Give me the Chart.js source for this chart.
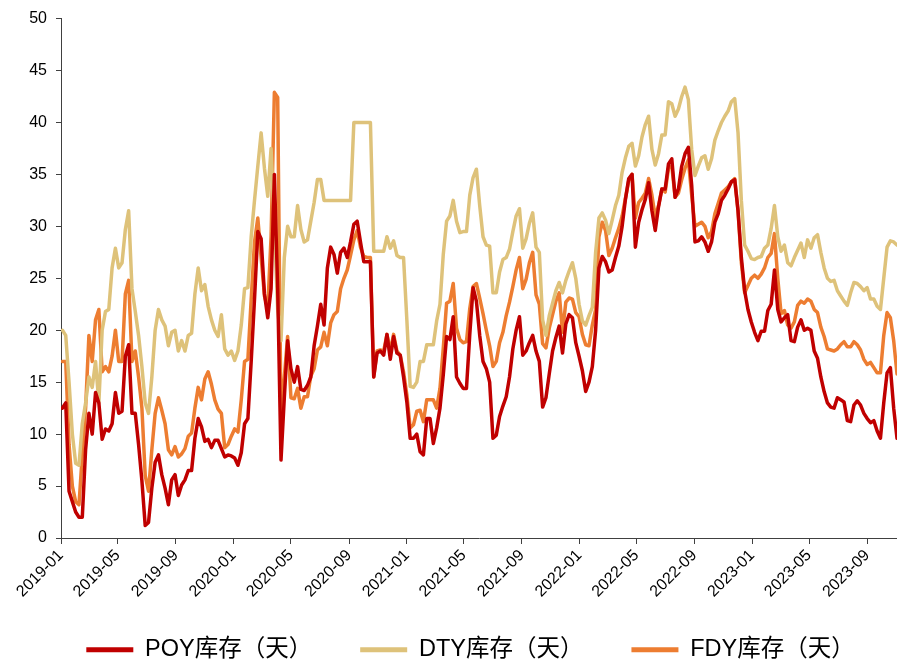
<!DOCTYPE html>
<html>
<head>
<meta charset="utf-8">
<script src="https://cdn.jsdelivr.net/npm/chart.js@4.4.1/dist/chart.umd.min.js"></script>
<style>
  html, body { margin: 0; padding: 0; background: #fff; }
  #wrap { width: 897px; height: 662px; }
</style>
</head>
<body>
<div id="wrap"><canvas id="chart" width="897" height="662"></canvas></div>
<script>
// weekly readings, first week ending 2019-01-04
const firstWeek = "2019-01-04";
const tickLabels = ["2019-01", "2019-05", "2019-09", "2020-01", "2020-05", "2020-09", "2021-01",
    "2021-05", "2021-09", "2022-01", "2022-05", "2022-09", "2023-01", "2023-05", "2023-09"];
const seriesNames = ["POY库存（天）", "DTY库存（天）", "FDY库存（天）"];
const seriesColors = ["#C00000", "#DEC27A", "#ED7D31"];

const poy = [
    12.5, 13, 4.5, 3.5, 2.5, 2, 2, 8.5, 12, 10,
    14, 13, 9.5, 10.5, 10.3, 11, 14, 12, 12.2, 17.5,
    18.6, 12, 12, 9, 5.5, 1.2, 1.5, 4.8, 7.3, 8,
    6.1, 4.8, 3.2, 5.6, 6.1, 4.1, 5.1, 5.6, 6.5, 6.5,
    9.6, 11.5, 10.7, 9.3, 9.5, 8.7, 9.4, 9.4, 8.6, 7.8,
    8, 7.9, 7.7, 7, 8.2, 11, 11.5, 17, 23, 29.5,
    28.8, 23.5, 21.2, 24, 35, 24, 7.5, 13.5, 19, 16.3,
    15, 16.5, 14.3, 14.2, 14.7, 15.5, 18.5, 20.4, 22.5, 20.5,
    26, 28, 27.3, 25.5, 27.5, 27.9, 27, 28.5, 30.2, 30.5,
    28.5, 26.6, 26.6, 26.6, 15.5, 17.8, 18, 17.6, 19.6, 17.2,
    19.4, 17.8, 17.6, 15.5, 13.1, 9.6, 9.6, 10, 8.3, 8,
    11.5, 11.5, 9.1, 10.6, 12.5, 15.7, 19.4, 19.1, 21.3, 15.5,
    14.9, 14.4, 14.4, 19.6, 24.1, 22.8, 19.5, 17, 16.3, 15,
    9.6, 9.9, 11.7, 12.7, 13.6, 15.5, 18.2, 20, 21.3, 17.6,
    18, 18.8, 19.5, 18, 17, 12.6, 13.5, 15.8, 18, 19.3,
    20.4, 17.8, 20.6, 21.5, 21.2, 18.8, 17.5, 16.1, 14.1, 15,
    16.5, 20, 26, 27.1, 26.6, 25.6, 25.8, 27, 28.1, 30,
    32.6, 34.6, 35, 28, 30.4, 31.6, 32.6, 34.2, 31.5, 29.6,
    31.9, 33.6, 33.6, 36, 36.5, 32.8, 33.6, 35.8, 37, 37.6,
    34, 28.5, 28.6, 29, 28.5, 27.6, 28.5, 30.4, 31.2, 32.5,
    33, 33.6, 34.3, 34.5, 31.5, 27, 23.8, 22, 20.8, 19.8,
    19, 19.9, 19.9, 21.9, 22.5, 25.8, 22, 20.8, 21.2, 21.5,
    19, 18.9, 20.3, 21, 20, 20.2, 20, 18, 17.3, 15.5,
    14.1, 13, 12.6, 12.5, 13.5, 13.3, 13.1, 11.3, 11.2, 12.8,
    13.2, 12.8, 12, 11.5, 11.1, 11.3, 10.3, 9.6, 13, 15.9,
    16.4, 12.5, 9.6
];

const dty = [
    20, 19.5, 15, 10, 7.2, 7, 11, 13, 15.5, 14.5,
    17, 13, 20, 21.8, 22, 26, 27.9, 26, 26.5, 29.7,
    31.5, 24, 21.8, 19.5, 16.5, 13, 12, 15.5, 20, 22,
    21, 20.4, 18.5, 19.8, 20, 18, 19, 18, 19.5, 19.7,
    23.5, 26, 23.8, 24.4, 22.3, 21, 20, 19.4, 21.5, 18.2,
    17.6, 18, 17.1, 18, 20.5, 24, 24.1, 29, 32.5, 35.8,
    39, 35.6, 32.9, 37.5, 30, 22, 19, 27, 30, 29,
    29, 32, 29.7, 28.5, 28.7, 30.5, 32.3, 34.5, 34.5, 32.5,
    32.5, 32.5, 32.5, 32.5, 32.5, 32.5, 32.5, 32.5, 40, 40,
    40, 40, 40, 40, 27.6, 27.6, 27.6, 27.6, 29, 27.9,
    28.6, 27.2, 27, 27, 21, 14.6, 14.5, 15, 17, 17,
    18.6, 18.6, 18.6, 20.9, 22.5, 27.3, 30.5, 31, 32.5, 30.5,
    29.4, 29.5, 29.5, 33, 34.7, 35.5, 32, 29, 28.2, 28.1,
    23.6, 23.6, 25.6, 26.8, 27, 27.8, 29.5, 31, 31.7, 27.9,
    28.8, 30.3, 31.3, 28, 27.5, 21, 19.5, 21.4, 22.6, 23.8,
    24.6, 23.6, 24.8, 25.7, 26.5, 25, 22.5, 20.9, 20.5, 21.4,
    22.2, 27.5, 30.8, 31.3, 30.6, 29.3, 30.6, 32, 33, 35.2,
    36.6, 37.7, 38, 35.8, 36.8, 38.6, 39.8, 40.6, 37.4, 35.9,
    37, 38.8, 38.8, 42, 41.8, 40.6, 41.3, 42.5, 43.4, 42.2,
    37.4, 34.9, 35.8, 36.6, 36.8, 35.5, 36.5, 38.3, 39.2, 40,
    40.6, 41.1, 42, 42.3, 39, 32.5, 28.2, 27.6, 26.9, 26.8,
    27, 27.1, 27.9, 28.2, 29.8, 32, 29, 27.6, 28.2, 26.5,
    26.2, 27, 27.7, 28.4, 27, 28.7, 27.9, 28.9, 29.2, 27.5,
    26, 25, 24.7, 24.8, 23.8, 23.3, 22.8, 22.4, 23.6, 24.6,
    24.5, 24.2, 23.8, 24.1, 23, 23, 22.3, 22, 25, 28,
    28.6, 28.5, 28.2
];

const fdy = [
    17, 17, 9, 5, 3.5, 3.2, 8, 12.5, 19.5, 17,
    21, 22, 16, 16.5, 16, 17.5, 20, 17, 17, 23.5,
    24.8, 17, 18, 15.5, 12.5, 6, 4.5, 8.5, 12, 13.5,
    12.3, 11, 8.5, 8, 8.8, 7.8, 8.1, 8.6, 9.8, 10.1,
    12.5, 14.5, 13.3, 15.3, 16, 14.8, 13.3, 12.4, 12, 8.7,
    9, 9.8, 10.5, 10.2, 13.3, 17, 17.2, 23, 28.5, 30.8,
    27, 23.3, 22.1, 29, 42.9, 42.4, 11.5, 15.5, 19.4, 13.5,
    13.4, 14.4, 12.5, 13.6, 13.6, 15.6, 16.3, 18.1, 18.4, 19.8,
    18.5, 20.7, 21.5, 21.8, 24, 25, 25.8, 27.2, 28.7, 29.6,
    28, 27.1, 27, 27, 15.5, 18, 18.1, 18, 19.6, 18,
    19.6, 18, 17.6, 16, 13.8, 10.6, 10.9, 12.2, 12.3, 11.2,
    13.3, 13.3, 13.3, 12.5, 14.4, 18.3, 22.6, 22.8, 24.5, 20.2,
    19.1, 18.8, 18.9, 22.1, 24.2, 24.5, 23.1, 21.6, 20, 18.5,
    16.5, 17, 18.8, 19.8, 21.4, 22.7, 24.2, 25.8, 27, 24,
    24.9, 26.5, 27.5, 23.4, 22.5, 18.7, 18.3, 20.2, 21.5, 22.8,
    23.6, 19.8, 22.7, 23.1, 23, 21.7, 21.3, 19.6, 18.6, 18.5,
    20.5, 22, 29, 30.4, 29.6, 27.2, 27.9, 28.9, 29.8, 31,
    32.7, 34.4, 35, 30.8, 32.3, 32.7, 33.2, 34.6, 33, 30.9,
    32, 33.6, 33.3, 35.6, 35.8, 32.8, 33.2, 34.5, 35.6, 36.4,
    33, 30, 30.2, 30.4, 30, 28.9, 29.5, 31.2, 32.2, 33.2,
    33.5, 33.8, 34.3, 34.6, 31.5, 26.5, 23.6, 24.3, 25, 25.3,
    25, 25.4, 26, 27, 27.4, 29.3, 25, 21.6, 21.9, 20.5,
    20.2, 20.8, 22.4, 22.8, 22.6, 23, 22.8, 22, 21.7, 20.3,
    19.4, 18.2, 18.1, 18, 18.2, 18.6, 18.9, 18.4, 18.4, 18.9,
    18.6, 18.1, 17.2, 16.7, 16.9, 16.4, 15.9, 15.9, 19.5, 21.7,
    21.2, 19, 15.8
];

const DAY = 86400000;
const ORIGIN = Date.UTC(2019, 0, 1);

function dayOf(str) {
    const [y, m, d = 1] = str.split("-").map(Number);
    return (Date.UTC(y, m - 1, d) - ORIGIN) / DAY;
}

const weeks = poy.map((_, i) => {
    const t = new Date(ORIGIN + (dayOf(firstWeek) + i * 7) * DAY);
    return t.toISOString().slice(0, 10);
});
const tickDays = tickLabels.map(dayOf);

function toPoints(values) {
    return values.map((v, i) => ({ x: dayOf(weeks[i]), y: v }));
}

const FONT = "'Liberation Sans', Arial, 'Noto Sans CJK SC', sans-serif";
const AXIS = "#404040";

// legend keeps a wide gap between items, so its box is placed by hand
const legendPlacement = {
    id: "legendPlacement",
    beforeUpdate(chart) {
        const legend = chart.legend;
        if (!legend || legend._fixed) return;
        const fit = legend.fit.bind(legend);
        legend.fit = function () {
            fit();
            this.height = 52;
        };
        legend._fixed = true;
    },
    afterLayout(chart) {
        const legend = chart.legend;
        legend.top = 590;
        legend.bottom = 662;
        legend.left += 22;
        legend.right += 22;
    },
};

const datasets = [poy, dty, fdy].map((values, i) => ({
    label: seriesNames[i],
    data: toPoints(values),
    borderColor: seriesColors[i],
    backgroundColor: seriesColors[i],
    borderWidth: 3.5,
    borderJoinStyle: "round",
    borderCapStyle: "round",
    pointRadius: 0,
    tension: 0,
}));

new Chart(document.getElementById("chart"), {
    type: "line",
    data: { datasets },
    plugins: [legendPlacement],
    options: {
        responsive: false,
        animation: false,
        layout: { padding: { left: 0, top: 17, right: 0, bottom: 0 } },
        plugins: {
            tooltip: { enabled: false },
            legend: {
                position: "bottom",
                labels: {
                    color: "#000",
                    font: { family: FONT, size: 23.5 },
                    boxWidth: 47,
                    boxHeight: 5,
                    padding: 48,
                    generateLabels: (chart) =>
                        Chart.defaults.plugins.legend.labels.generateLabels(chart).map((item) => ({
                            ...item,
                            lineWidth: 0,
                        })),
                },
            },
        },
        scales: {
            x: {
                type: "linear",
                min: 0,
                max: dayOf(weeks[weeks.length - 1]),
                afterBuildTicks: (scale) => {
                    scale.ticks = tickDays.map((value) => ({ value }));
                },
                afterFit: (scale) => {
                    scale.height = 72;
                },
                border: { display: true, color: AXIS, width: 1 },
                grid: { drawOnChartArea: false, drawTicks: true, tickLength: 6, color: AXIS },
                ticks: {
                    autoSkip: false,
                    maxRotation: 45,
                    minRotation: 45,
                    padding: 2,
                    color: "#000",
                    font: { family: FONT, size: 16 },
                    callback: (value, index) => tickLabels[index],
                },
            },
            y: {
                min: 0,
                max: 50,
                afterFit: (scale) => {
                    scale.width = 61;
                },
                border: { display: true, color: AXIS, width: 1 },
                grid: { drawOnChartArea: false, drawTicks: true, tickLength: 5, color: AXIS },
                ticks: {
                    stepSize: 5,
                    padding: 9,
                    color: "#000",
                    font: { family: FONT, size: 16 },
                },
            },
        },
    },
});
</script>
</body>
</html>
